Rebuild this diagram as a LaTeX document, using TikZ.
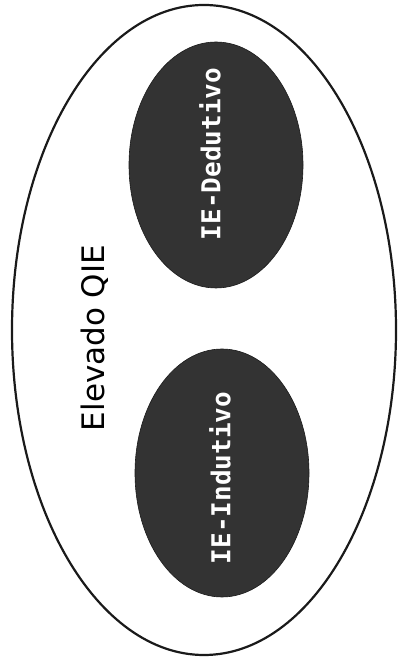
\documentclass[tikz,border=0pt]{standalone}
\usepackage{fontspec}
\setmainfont{DejaVu Sans}
\newfontfamily\monofont{DejaVu Sans Mono}
\usetikzlibrary{shapes.geometric}
\definecolor{ringline}{HTML}{1A1A1A}
\definecolor{blobfill}{HTML}{333333}
\tikzset{
  ring/.style={ellipse, draw=ringline, line width=2.2pt, inner sep=0pt, rotate=90},
  blob/.style={ellipse, fill=blobfill, draw=ringline, line width=0.6pt, inner sep=0pt, rotate=90},
  blobtext/.style={rotate=90, text=white, inner sep=0pt,
                   font=\monofont\bfseries\fontsize{26}{30}\selectfont},
  tag/.style={rotate=90, inner sep=0pt, font=\fontsize{31}{36}\selectfont},
}
\begin{document}
\begin{tikzpicture}[x=1pt,y=1pt]
  \useasboundingbox (0,0) rectangle (398,663);
  % outer group
  \node[ring, minimum width=650pt, minimum height=384pt] (qie) at (204,333) {};
  \node[tag] (qielabel) at (95,325) {Elevado QIE};
  % inner groups
  \node[blob, minimum width=246pt, minimum height=174pt] (ded) at (216,498) {};
  \node[blobtext] (dedlabel) at (210,509) {IE-Dedutivo};
  \node[blob, minimum width=248pt, minimum height=174pt] (ind) at (222,190) {};
  \node[blobtext] (indlabel) at (220,185) {IE-Indutivo};
\end{tikzpicture}
\end{document}
